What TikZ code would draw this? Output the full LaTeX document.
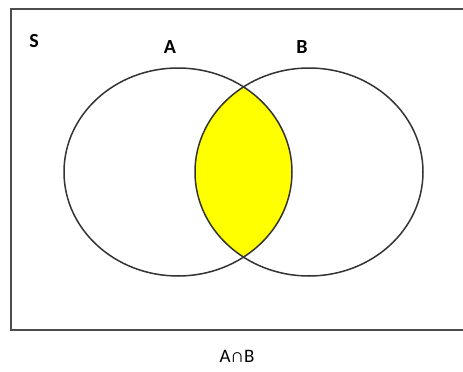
\documentclass[tikz,border=0pt]{standalone}
\usepackage{fontspec}
\setmainfont{Carlito}
\usetikzlibrary{shapes.geometric}
\definecolor{lensyellow}{RGB}{255,255,0}
\begin{document}
\begin{tikzpicture}[x=1pt,y=-1pt,
  setline/.style={draw=black!80,line width=1.5pt},
  lbl/.style={font=\fontsize{20}{24}\selectfont\bfseries,inner sep=0pt}]
\useasboundingbox (0,0) rectangle (463,372);
\fill[white] (0,0) rectangle (463,372);
\coordinate (ca) at (178,172);
\coordinate (cb) at (309,172);
\begin{scope}
  \clip (ca) ellipse [x radius=114, y radius=104];
  \fill[lensyellow] (cb) ellipse [x radius=114, y radius=104];
\end{scope}
\node[setline,draw=black!70,line width=1.8pt,minimum width=456,minimum height=321,anchor=north west,inner sep=0pt] (S) at (10,8) {};
\node[setline,ellipse,minimum width=228,minimum height=208,inner sep=0pt] (A) at (ca) {};
\node[setline,ellipse,minimum width=228,minimum height=208,inner sep=0pt] (B) at (cb) {};
\node[lbl] (ls) at (34,41) {S};
\node[lbl] (la) at (170,47) {A};
\node[lbl] (lb) at (302,47) {B};
\node[font=\fontsize{19}{22}\selectfont,inner sep=0pt] (lab) at (237,356) {A∩B};
\end{tikzpicture}
\end{document}
